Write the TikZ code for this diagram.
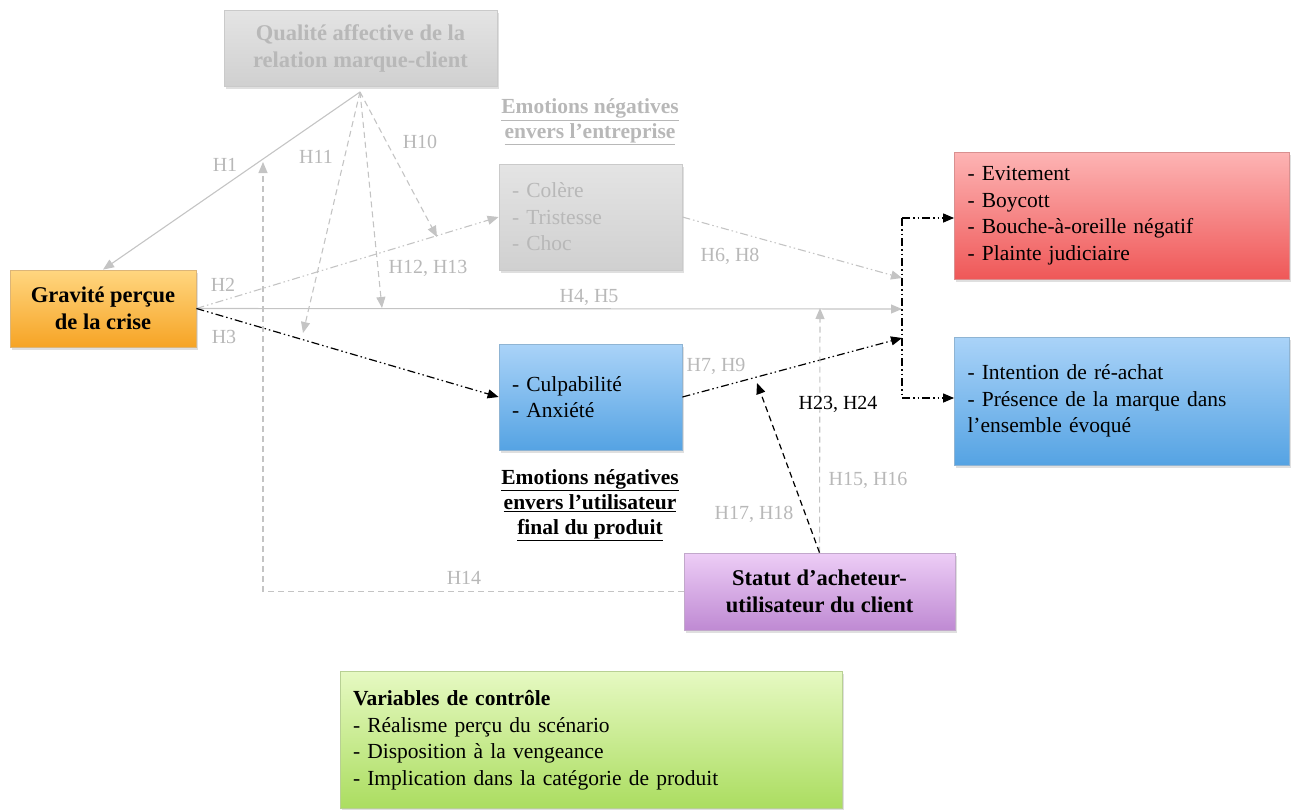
\documentclass[tikz,border=0pt]{standalone}
\usepackage{fontspec}
\setmainfont{Liberation Serif}
\usepackage{tikz}
\usetikzlibrary{arrows.meta,shadows}

\definecolor{grisTxt}{HTML}{B8B8B8}
\definecolor{grisLn}{HTML}{C4C4C4}
\definecolor{grisH}{HTML}{E4E4E4}\definecolor{grisB}{HTML}{D0D0D0}
\definecolor{orH}{HTML}{FFD680}\definecolor{orB}{HTML}{F6A425}
\definecolor{bleuH}{HTML}{AAD3F8}\definecolor{bleuB}{HTML}{55A3E3}
\definecolor{rougeH}{HTML}{FDB4B4}\definecolor{rougeB}{HTML}{EF5858}
\definecolor{violH}{HTML}{EDCDF6}\definecolor{violB}{HTML}{BF8AD3}
\definecolor{vertH}{HTML}{E6F9C2}\definecolor{vertB}{HTML}{ABDD60}
\newcommand\boxfont{\fontsize{22.5}{27}\selectfont\bfseries}
\newcommand\listfont{\fontsize{21.5}{26.5}\selectfont}
\newcommand\hfont{\fontsize{20}{22}\selectfont}

\begin{document}
\begin{tikzpicture}[x=1pt,y=-1pt,
  box/.style n args={2}{rectangle,top color=#1,bottom color=#2,draw=#2!80!black!60,line width=0.8pt,
    drop shadow={shadow xshift=1.5pt,shadow yshift=-2.5pt,opacity=0.25}},
  lst/.style={align=left,text width=#1,inner xsep=13pt,font=\listfont},
  hyp/.style={font=\hfont,text=grisTxt,inner sep=1pt},
  tip/.style={-{Triangle[length=11pt,width=9pt]}},
  gsolid/.style={draw=grisLn,line width=1.1pt,tip},
  gdash/.style={draw=grisLn,line width=1.1pt,dash pattern=on 6pt off 4pt,tip},
  gdot/.style={draw=grisLn,line width=1.1pt,dash pattern=on 8pt off 3pt on 1.5pt off 3pt on 1.5pt off 3pt,tip},
  bdot/.style={draw=black,line width=1.2pt,dash pattern=on 8pt off 3pt on 1.5pt off 3pt on 1.5pt off 3pt},
  bdash/.style={draw=black,line width=1.2pt,dash pattern=on 6pt off 4pt,tip}]
\useasboundingbox (0,0) rectangle (1298,809);

% boites
\node[box={grisH}{grisB},minimum width=273pt,minimum height=76pt,align=center,
  text=grisTxt,font=\boxfont] (qualite) at (360.5,48) {Qualité affective de la\\relation marque-client};
\node[box={orH}{orB},minimum width=186pt,minimum height=77pt,
  align=center,font=\boxfont] (gravite) at (103,308.5) {Gravité perçue\\de la crise};
\node[box={grisH}{grisB},lst=157pt,minimum height=106pt,text=grisTxt] (colere) at (590.5,217)
  {- Colère\\- Tristesse\\- Choc};
\node[box={bleuH}{bleuB},lst=157pt,minimum height=106pt] (culpa) at (590.5,397)
  {- Culpabilité\\- Anxiété};
\node[box={rougeH}{rougeB},lst=309pt,minimum height=127pt] (sortieA) at (1122,215.5)
  {- Evitement\\- Boycott\\- Bouche-à-oreille négatif\\- Plainte judiciaire};
\node[box={bleuH}{bleuB},lst=309pt,minimum height=128pt] (sortieB) at (1122,401)
  {- Intention de ré-achat\\- Présence de la marque dans\\l'ensemble évoqué};
\node[box={violH}{violB},minimum width=271pt,minimum height=77pt,
  align=center,font=\boxfont] (statut) at (819.5,591.5) {Statut d'acheteur-\\utilisateur du client};
\node[box={vertH}{vertB},lst=476pt,minimum height=137pt] (controle) at (591,740)
  {\textbf{Variables de contrôle}\\- Réalisme perçu du scénario\\- Disposition à la vengeance\\- Implication dans la catégorie de produit};

% titres
\node[align=center,text=grisTxt,font=\fontsize{21.5}{25}\selectfont\bfseries] (titreA) at (590,122)
  {\underline{Emotions négatives}\\\underline{envers l'entreprise}};
\node[align=center,font=\fontsize{21.5}{25}\selectfont\bfseries] (titreB) at (590,505)
  {\underline{Emotions négatives}\\\underline{envers l'utilisateur}\\\underline{final du produit}};

% points de jonction
\coordinate (jA) at (902,218);
\coordinate (jB) at (902,398);
\coordinate (j1) at (902,278);
\coordinate (j2) at (902,309);
\coordinate (j3) at (902,338);
\coordinate (q0) at (360,92);
\coordinate (e10) at (437,237);
\coordinate (e11) at (303,333);
\coordinate (e12) at (382,308);
\coordinate (e14) at (263,162);
\coordinate (e15) at (820,308);
\coordinate (e17) at (757,383);

% fleches
\draw[gsolid] (q0) -- (gravite.north);
\draw[gdot] (gravite.east) -- (colere.west);
\draw[gsolid] (gravite.east) -- (j2);
\draw[bdot,tip] (gravite.east) -- (culpa.west);
\draw[gdot] (colere.east) -- (j1);
\draw[bdot,tip] (culpa.east) -- (j3);
\draw[gdash] (q0) -- (e10);
\draw[gdash] (q0) -- (e11);
\draw[gdash] (q0) -- (e12);
\draw[gdash] (statut.west) -| (e14);
\draw[gdash] (statut.north) -- (e15);
\draw[bdash] (statut.north) -- (e17);
\draw[bdot] (jA) -- (jB);
\draw[bdot,tip] (jA) -- (jA -| sortieA.west);
\draw[bdot,tip] (jB) -- (jB -| sortieB.west);

% etiquettes
\node[hyp] (h1) at (225,165) {H1};
\node[hyp] (h11) at (316,157) {H11};
\node[hyp] (h10) at (420,142) {H10};
\node[hyp] (h2) at (223,285) {H2};
\node[hyp] (h3) at (224,337) {H3};
\node[hyp] (h12) at (428,268) {H12, H13};
\node[hyp] (h4) at (589,297) {H4, H5};
\node[hyp] (h6) at (730,256) {H6, H8};
\node[hyp] (h7) at (716,366) {H7, H9};
\node[hyp,text=black] (h23) at (838,404) {H23, H24};
\node[hyp] (h15) at (868,480) {H15, H16};
\node[hyp] (h17) at (754,514) {H17, H18};
\node[hyp] (h14) at (464,578) {H14};
\end{tikzpicture}
\end{document}
